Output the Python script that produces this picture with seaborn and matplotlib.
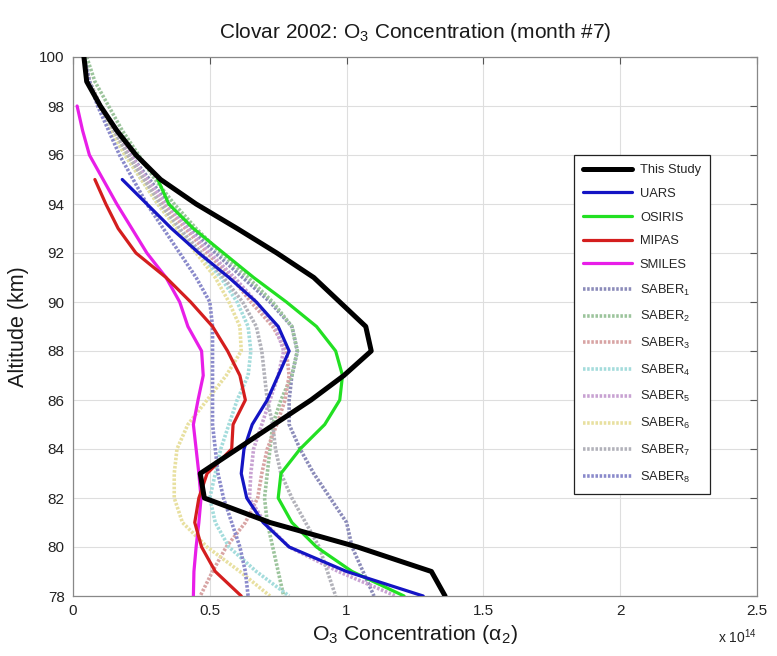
import matplotlib
matplotlib.use("Agg")
import matplotlib.pyplot as plt
import numpy as np
import pandas as pd
import seaborn as sns

# Altitude grid (km), 1 km steps from 100 down to 78
altitude = list(range(100, 77, -1))

# O3 concentration profiles, units of 1e14
this_study = [0.04, 0.05, 0.10, 0.16, 0.23, 0.32, 0.45, 0.60, 0.745, 0.88, 0.975,
              1.07, 1.09, 0.99, 0.87, 0.735, 0.60, 0.465, 0.48, 0.72, 1.04, 1.31, 1.36]

uars_alt = list(range(95, 77, -1))
uars = [0.18, 0.27, 0.36, 0.46, 0.57, 0.67, 0.75, 0.79, 0.75, 0.71, 0.655, 0.625,
        0.615, 0.635, 0.695, 0.79, 1.00, 1.28]

osiris_alt = list(range(95, 77, -1))
osiris = [0.31, 0.35, 0.44, 0.55, 0.66, 0.78, 0.89, 0.96, 0.985, 0.975, 0.92, 0.83,
          0.76, 0.75, 0.80, 0.89, 1.02, 1.21]

mipas_alt = list(range(95, 77, -1))
mipas = [0.08, 0.12, 0.165, 0.23, 0.34, 0.43, 0.51, 0.565, 0.61, 0.63, 0.585, 0.58,
         0.49, 0.46, 0.445, 0.47, 0.52, 0.615]

smiles_alt = list(range(98, 77, -1))
smiles = [0.015, 0.035, 0.06, 0.11, 0.16, 0.215, 0.27, 0.34, 0.39, 0.42, 0.47, 0.476,
          0.457, 0.44, 0.45, 0.46, 0.468, 0.46, 0.45, 0.442, 0.44]

saber_1 = [0.04, 0.06, 0.10, 0.15, 0.21, 0.28, 0.35, 0.43, 0.52, 0.62, 0.72, 0.80,
           0.82, 0.80, 0.79, 0.79, 0.83, 0.88, 0.94, 1.00, 1.02, 1.06, 1.10]
saber_2 = [0.05, 0.08, 0.13, 0.18, 0.24, 0.30, 0.37, 0.45, 0.54, 0.64, 0.73, 0.80,
           0.82, 0.80, 0.76, 0.73, 0.72, 0.71, 0.70, 0.71, 0.73, 0.75, 0.77]
saber_3 = [0.04, 0.06, 0.10, 0.15, 0.20, 0.26, 0.33, 0.41, 0.49, 0.58, 0.65, 0.73,
           0.78, 0.79, 0.775, 0.745, 0.71, 0.69, 0.675, 0.63, 0.56, 0.51, 0.465]
saber_4 = [0.04, 0.06, 0.10, 0.14, 0.19, 0.25, 0.31, 0.38, 0.46, 0.54, 0.60, 0.64,
           0.65, 0.64, 0.60, 0.57, 0.54, 0.52, 0.50, 0.52, 0.57, 0.67, 0.79]
saber_5 = [0.04, 0.06, 0.10, 0.15, 0.21, 0.27, 0.34, 0.42, 0.50, 0.59, 0.67, 0.74,
           0.77, 0.75, 0.72, 0.69, 0.66, 0.65, 0.645, 0.70, 0.79, 0.97, 1.18]
saber_6 = [0.04, 0.06, 0.10, 0.14, 0.19, 0.25, 0.31, 0.38, 0.45, 0.52, 0.57, 0.61,
           0.615, 0.56, 0.49, 0.42, 0.38, 0.37, 0.37, 0.40, 0.49, 0.61, 0.72]
saber_7 = [0.04, 0.06, 0.10, 0.15, 0.20, 0.26, 0.32, 0.39, 0.47, 0.55, 0.62, 0.67,
           0.69, 0.70, 0.71, 0.73, 0.74, 0.76, 0.80, 0.85, 0.90, 0.93, 0.96]
saber_8 = [0.04, 0.06, 0.09, 0.13, 0.17, 0.22, 0.27, 0.33, 0.39, 0.45, 0.50, 0.51,
           0.51, 0.51, 0.51, 0.51, 0.52, 0.53, 0.55, 0.58, 0.61, 0.63, 0.64]

saber_profiles = [saber_1, saber_2, saber_3, saber_4, saber_5, saber_6, saber_7, saber_8]
saber_colors = ["#8c8cba", "#9cc49c", "#d8a4a4", "#a4dcdc",
                "#c8a2d2", "#e8e0a0", "#b2b2ba", "#8a8acb"]

x_ticks = [0, 0.5, 1, 1.5, 2, 2.5]
y_ticks = list(range(78, 101, 2))

sns.set_theme(style="white")
plt.rcParams["font.family"] = ["Liberation Sans", "DejaVu Sans"]
plt.rcParams["mathtext.fontset"] = "custom"
plt.rcParams["mathtext.rm"] = "Liberation Sans"
plt.rcParams["mathtext.it"] = "Liberation Sans:italic"
plt.rcParams["mathtext.default"] = "regular"

fig = plt.figure(figsize=(7.77, 6.56), dpi=100)
ax = fig.add_axes([73 / 777, 1 - 596 / 656, 684 / 777, 539 / 656])

handles = {}

# SABER profiles: pale dotted lines underneath
for i, (prof, col) in enumerate(zip(saber_profiles, saber_colors), start=1):
    df = pd.DataFrame({"conc": prof, "alt": altitude})
    sns.lineplot(data=df, x="conc", y="alt", sort=False, estimator=None, ax=ax,
                 color=col, linewidth=2.6, linestyle=(0, (0.7, 0.45)), zorder=2)
    handles[f"SABER$_{i}$"] = ax.lines[-1]

main_series = [
    ("SMILES", smiles, smiles_alt, "#e81ee8", 2.3),
    ("MIPAS", mipas, mipas_alt, "#d41e1e", 2.3),
    ("OSIRIS", osiris, osiris_alt, "#22e022", 2.3),
    ("UARS", uars, uars_alt, "#1414c4", 2.3),
    ("This Study", this_study, altitude, "#000000", 3.6),
]
for name, prof, alts, col, lw in main_series:
    df = pd.DataFrame({"conc": prof, "alt": alts})
    sns.lineplot(data=df, x="conc", y="alt", sort=False, estimator=None, ax=ax,
                 color=col, linewidth=lw, zorder=3)
    handles[name] = ax.lines[-1]

ax.set_xlim(0, 2.5)
ax.set_ylim(78, 100)
ax.set_xticks(x_ticks)
ax.set_xticklabels(["0", "0.5", "1", "1.5", "2", "2.5"])
ax.set_yticks(y_ticks)
ax.grid(True, color="#dedede", linewidth=0.8)
ax.tick_params(direction="in", length=5, width=0.8, colors="#555555",
               labelcolor="#222222", labelsize=11, pad=6,
               top=True, right=True)
for sp in ax.spines.values():
    sp.set_color("#888888")
    sp.set_linewidth(0.9)

ax.set_title("Clovar 2002: O$_3$ Concentration (month #7)", fontsize=15,
             color="#1a1a1a", pad=14)
ax.set_xlabel(r"O$_3$ Concentration ($\alpha_2$)", fontsize=15.3, color="#1a1a1a",
              labelpad=3)
ax.set_ylabel("Altitude (km)", fontsize=15.5, color="#1a1a1a", labelpad=7)
ax.text(1.0, -0.075, "x 10$^{14}$", transform=ax.transAxes, ha="right",
        va="center", fontsize=10, color="#222222")

order = ["This Study", "UARS", "OSIRIS", "MIPAS", "SMILES"] + \
        [f"SABER$_{i}$" for i in range(1, 9)]
leg = ax.legend([handles[k] for k in order], order, loc="upper left",
                bbox_to_anchor=(0.7325, 0.818), borderaxespad=0,
                fontsize=9.3, frameon=True,
                fancybox=False, framealpha=1, edgecolor="#222222",
                handlelength=3.8, labelspacing=0.9, borderpad=0.7,
                handletextpad=0.6)
leg.get_frame().set_linewidth(0.9)

fig.savefig("out.png", dpi=100, facecolor="white")
